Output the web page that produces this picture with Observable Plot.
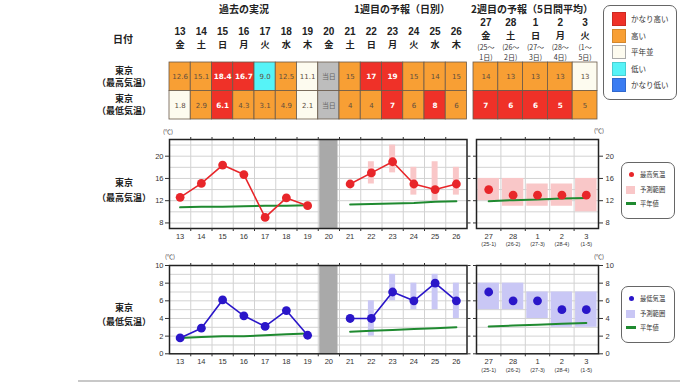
<!DOCTYPE html>
<html lang="ja"><head><meta charset="utf-8">
<script src="https://cdn.jsdelivr.net/npm/d3@7"></script>
<script src="https://cdn.jsdelivr.net/npm/@observablehq/plot@0.6"></script>
<style>
html,body{margin:0;padding:0;background:#fff;}
#root{position:relative;width:680px;height:382px;overflow:hidden;background:#fff;font-family:"Noto Sans CJK JP","Noto Sans",sans-serif;color:#222;}
#root svg{position:absolute;left:0;top:0;}
.t{position:absolute;white-space:nowrap;transform:translate(-50%,-50%);line-height:1;}
.tl{position:absolute;white-space:nowrap;transform:translate(0,-50%);line-height:1;}
.box{position:absolute;border:1px solid #666;border-radius:7px;background:#fff;box-sizing:border-box;}
.sw{position:absolute;box-sizing:border-box;}
</style></head><body><div id="root"></div>
<script>
// ---------- data ----------
const daysA = ["13","14","15","16","17","18","19","20","21","22","23","24","25","26"];
const weekdaysA = ["金","土","日","月","火","水","木","金","土","日","月","火","水","木"];
const daysB = ["27","28","1","2","3"];
const weekdaysB = ["金","土","日","月","火"];
const periodStartB = ["(25～","(26～","(27～","(28～","(1～"];
const periodEndB = ["1日)","2日)","3日)","4日)","5日)"];
const periodTicksB = ["(25-1)","(26-2)","(27-3)","(28-4)","(1-5)"];

// observations 13-19
const maxObs = [12.6, 15.1, 18.4, 16.7, 9.0, 12.5, 11.1];
const maxObsClass = ["high","high","vhigh","vhigh","low","high","normal"];
const minObs = [1.8, 2.9, 6.1, 4.3, 3.1, 4.9, 2.1];
const minObsClass = ["normal","high","vhigh","high","high","high","normal"];
// week 1 forecast 21-26
const maxW1 = [15, 17, 19, 15, 14, 15];
const maxW1Class = ["high","vhigh","vhigh","high","high","high"];
const maxW1Lo = [null, 15, 17, 13, 12, 13];
const maxW1Hi = [null, 19, 22, 18, 19, 18];
const minW1 = [4, 4, 7, 6, 8, 6];
const minW1Class = ["high","high","vhigh","high","vhigh","high"];
const minW1Lo = [null, 2, 6, 5, 5, 4];
const minW1Hi = [null, 6, 9, 8, 9, 8];
// week 2 forecast (5-day means)
const maxW2 = [14, 13, 13, 13, 13];
const maxW2Class = ["high","high","high","high","normal"];
const maxW2Lo = [12, 11, 11, 11, 10];
const maxW2Hi = [16, 16, 15, 15, 16];
const minW2 = [7, 6, 6, 5, 5];
const minW2Class = ["vhigh","vhigh","vhigh","vhigh","high"];
const minW2Lo = [5, 5, 4, 3, 3];
const minW2Hi = [8, 8, 7, 7, 7];
// normals
const maxNormPast = [10.8, 10.9, 10.9, 11.0, 11.1, 11.1, 11.2];
const maxNormW1 = [11.3, 11.4, 11.5, 11.6, 11.8, 11.9];
const maxNormW2 = [11.9, 12.1, 12.2, 12.4, 12.5];
const minNormPast = [1.8, 1.9, 2.0, 2.0, 2.1, 2.2, 2.3];
const minNormW1 = [2.5, 2.6, 2.7, 2.8, 2.9, 3.0];
const minNormW2 = [3.1, 3.2, 3.3, 3.4, 3.5];
// axes
const maxGrid = [8, 10, 12, 14, 16, 18, 20, 22];
const maxTicks = [8, 12, 16, 20];
const minGrid = [1, 2, 3, 4, 5, 6, 7, 8, 9];
const minTicks = [0, 2, 4, 6, 8, 10];
// legend
const legendClasses = ["vhigh","high","normal","low","vlow"];
const legendLabels = ["かなり高い","高い","平年並","低い","かなり低い"];

// ---------- styles ----------
const W = 680, H = 382;
const NUM = "'Liberation Sans', Arial, sans-serif";
const TNUM = "'DejaVu Sans', Verdana, sans-serif";
const JP = "'Noto Sans CJK JP', sans-serif";
const colorOf = {vhigh:"#ef3128", high:"#f89f34", normal:"#fdfbef", low:"#56f3f7", vlow:"#3a7cf2", today:"#bdbdbd"};
const RED = "#e8262a", BLUE = "#2a16c9", PINK = "#f9c7c8", LAV = "#c9c7f5", GREEN = "#1f8a30", GRID = "#d2d2d2";

const root = document.getElementById("root");
function put(node){ root.appendChild(node); }
function full(opts){
  return Plot.plot(Object.assign({width:W, height:H,
    style:{background:"transparent", fontFamily:NUM, position:"absolute", left:"0px", top:"0px"},
    color:{type:"identity"}}, opts));
}
function txt(x, y, s, css, cls="t"){
  const d = document.createElement("div"); d.className = cls;
  d.style.left = x + "px"; d.style.top = y + "px"; d.textContent = s;
  Object.assign(d.style, css || {}); root.appendChild(d); return d;
}
function headerLine(labels, dy, opts){
  return Plot.text(labels.map((s,i)=>({i, s})), Object.assign({x:"i", frameAnchor:"top", dy, text:"s", lineAnchor:"middle", fontFamily:JP, fill:"#222"}, opts));
}

// ---------- tables ----------
const tableA = [];
daysA.forEach((d, i) => {
  let mv, mc, nv, nc;
  if (i < 7) { mv = maxObs[i].toFixed(1); mc = maxObsClass[i]; nv = minObs[i].toFixed(1); nc = minObsClass[i]; }
  else if (i === 7) { mv = nv = "当日"; mc = nc = "today"; }
  else { mv = String(maxW1[i-8]); mc = maxW1Class[i-8]; nv = String(minW1[i-8]); nc = minW1Class[i-8]; }
  tableA.push({i, row:0, text:mv, cls:mc}, {i, row:1, text:nv, cls:nc});
});
const tableB = [];
daysB.forEach((d, i) => {
  tableB.push({i, row:0, text:String(maxW2[i]), cls:maxW2Class[i]}, {i, row:1, text:String(minW2[i]), cls:minW2Class[i]});
});
function tableMarks(data){
  return [
    Plot.rect(data, {x1:d=>d.i-0.5, x2:d=>d.i+0.5, y1:"row", y2:d=>d.row+1, fill:d=>colorOf[d.cls], stroke:"#6a5a4a", strokeWidth:0.8}),
    Plot.text(data.filter(d=>d.cls!=="vhigh" && d.cls!=="today"), {x:"i", y:d=>d.row+0.5, text:"text", fill:"#5e4e3e", fontSize:7, fontFamily:TNUM}),
    Plot.text(data.filter(d=>d.cls==="today"), {x:"i", y:d=>d.row+0.5, text:"text", fill:"#666", fontSize:7, fontFamily:JP}),
    Plot.text(data.filter(d=>d.cls==="vhigh"), {x:"i", y:d=>d.row+0.5, text:"text", fill:"#fff", fontSize:7.3, fontWeight:"bold", fontFamily:TNUM})
  ];
}
const numHead = {fontSize:10, fontWeight:"bold", fontFamily:NUM};
const dayHead = {fontSize:9.2, fontWeight:"bold"};
put(full({
  marginLeft:169, marginRight:W-466.5, marginTop:62, marginBottom:H-119,
  x:{domain:[-0.5, 13.5], axis:null}, y:{domain:[0, 2], reverse:true, axis:null},
  marks:[
    ...tableMarks(tableA),
    headerLine(daysA, -30.6, numHead),
    headerLine(weekdaysA, -17.5, dayHead)
  ]
}));
put(full({
  marginLeft:473, marginRight:W-597, marginTop:62, marginBottom:H-119,
  x:{domain:[-0.5, 4.5], axis:null}, y:{domain:[0, 2], reverse:true, axis:null},
  marks:[
    ...tableMarks(tableB),
    headerLine(daysB, -39.6, numHead),
    headerLine(weekdaysB, -26.4, dayHead),
    headerLine(periodStartB, -15, {fontSize:7, fill:"#333"}),
    headerLine(periodEndB, -4.7, {fontSize:7, fill:"#333"})
  ]
}));

// ---------- charts ----------
function chartA(cfg){
  const obs = cfg.obs.map((v,i)=>({i, v}));
  const w1 = cfg.w1.map((v,k)=>({i:k+8, v, lo:cfg.lo[k], hi:cfg.hi[k]}));
  const nPast = cfg.normPast.map((v,i)=>({i, v}));
  const nW1 = cfg.normW1.map((v,k)=>({i:k+8, v}));
  const bounds = d3.range(0.5, 13, 1);
  return full({
    marginLeft:169, marginRight:W-466.5, marginTop:cfg.top, marginBottom:H-cfg.bottom,
    x:{domain:[-0.5, 13.5], axis:null}, y:{domain:cfg.domain, axis:null},
    marks:[
      Plot.gridY(cfg.grid, {stroke:GRID, strokeOpacity:1}),
      Plot.gridX(bounds, {stroke:GRID, strokeOpacity:1}),
      Plot.rect([7], {x1:d=>d-0.43, x2:d=>d+0.43, fill:"#a9a9a9"}),
      Plot.rect(w1.filter(d=>d.lo!=null), {x1:d=>d.i-0.14, x2:d=>d.i+0.14, y1:"lo", y2:"hi", fill:cfg.rangeColor}),
      Plot.line(nPast, {x:"i", y:"v", stroke:GREEN, strokeWidth:2}),
      Plot.line(nW1, {x:"i", y:"v", stroke:GREEN, strokeWidth:2}),
      Plot.line(obs, {x:"i", y:"v", stroke:cfg.color, strokeWidth:1.6}),
      Plot.line(w1, {x:"i", y:"v", stroke:cfg.color, strokeWidth:1.6}),
      Plot.dot(obs, {x:"i", y:"v", r:4.4, fill:cfg.color}),
      Plot.dot(w1, {x:"i", y:"v", r:4.4, fill:cfg.color}),
      Plot.frame({stroke:"#222", strokeWidth:1.5}),
      Plot.axisY(cfg.ticks, {anchor:"left", tickSize:4, tickPadding:2, fontSize:7.5, fill:"#333", stroke:"#333", label:null}),
      Plot.axisY(cfg.ticks, {anchor:"right", tickSize:3, tickFormat:()=>"", stroke:"#333", label:null}),
      Plot.axisX(d3.range(14), {anchor:"bottom", tickSize:0, tickPadding:5, tickFormat:i=>daysA[i], fontSize:7.5, fill:"#333", label:null}),
      Plot.axisX(bounds, {anchor:"bottom", tickSize:3, tickFormat:()=>"", stroke:"#333", label:null}),
      Plot.axisX(bounds, {anchor:"top", tickSize:3, tickFormat:()=>"", stroke:"#333", label:null})
    ]
  });
}
function chartB(cfg){
  const w2 = cfg.w2.map((v,i)=>({i, v, lo:cfg.lo[i], hi:cfg.hi[i]}));
  const nW2 = cfg.norm.map((v,i)=>({i, v}));
  const bounds = d3.range(0.5, 4, 1);
  return full({
    marginLeft:476, marginRight:W-598, marginTop:cfg.top, marginBottom:H-cfg.bottom,
    x:{domain:[-0.5, 4.5], axis:null}, y:{domain:cfg.domain, axis:null},
    marks:[
      Plot.gridY(cfg.grid, {stroke:GRID, strokeOpacity:1}),
      Plot.gridX(bounds, {stroke:GRID, strokeOpacity:1}),
      Plot.rect(w2, {x1:d=>d.i-0.44, x2:d=>d.i+0.44, y1:"lo", y2:"hi", fill:cfg.rangeColor}),
      Plot.line(nW2, {x:"i", y:"v", stroke:GREEN, strokeWidth:2}),
      Plot.dot(w2, {x:"i", y:"v", r:4.4, fill:cfg.color}),
      Plot.frame({stroke:"#222", strokeWidth:1.5}),
      Plot.axisY(cfg.ticks, {anchor:"right", tickSize:4, tickPadding:3, fontSize:7.5, fill:"#333", stroke:"#333", label:null}),
      Plot.axisY(cfg.ticks, {anchor:"left", tickSize:3, tickFormat:()=>"", stroke:"#333", label:null}),
      Plot.axisX(d3.range(5), {anchor:"bottom", tickSize:0, tickPadding:5, tickFormat:i=>daysB[i], fontSize:7.5, fill:"#333", label:null}),
      Plot.axisX(d3.range(5), {anchor:"bottom", tickSize:0, tickPadding:13.8, tickFormat:i=>periodTicksB[i], fontSize:5.5, fill:"#333", label:null}),
      Plot.axisX(bounds, {anchor:"bottom", tickSize:3, tickFormat:()=>"", stroke:"#333", label:null}),
      Plot.axisX(bounds, {anchor:"top", tickSize:3, tickFormat:()=>"", stroke:"#333", label:null})
    ]
  });
}
const maxCfg = {top:139, bottom:228, domain:[7, 23], grid:maxGrid, ticks:maxTicks, color:RED, rangeColor:PINK};
const minCfg = {top:265, bottom:353.3, domain:[0, 10], grid:minGrid, ticks:minTicks, color:BLUE, rangeColor:LAV};
put(chartA({...maxCfg, obs:maxObs, w1:maxW1, lo:maxW1Lo, hi:maxW1Hi, normPast:maxNormPast, normW1:maxNormW1}));
put(chartA({...minCfg, obs:minObs, w1:minW1, lo:minW1Lo, hi:minW1Hi, normPast:minNormPast, normW1:minNormW1}));
put(chartB({...maxCfg, w2:maxW2, lo:maxW2Lo, hi:maxW2Hi, norm:maxNormW2}));
put(chartB({...minCfg, w2:minW2, lo:minW2Lo, hi:minW2Hi, norm:minNormW2}));

// ---------- texts ----------
const hb = {fontSize:"10px", fontWeight:"bold"};
txt(244, 9, "過去の実況", hb);
txt(402, 9, "1週目の予報（日別）", hb);
txt(532, 9, "2週目の予報（5日間平均）", hb);
txt(123, 39, "日付", hb);
const rl = {fontSize:"9px", fontWeight:"bold"};
txt(124, 70, "東京", rl); txt(124, 82, "（最高気温）", rl);
txt(124, 98, "東京", rl); txt(124, 110, "（最低気温）", rl);
txt(124, 182, "東京", rl); txt(124, 197, "（最高気温）", rl);
txt(124, 307, "東京", rl); txt(124, 321, "（最低気温）", rl);
const un = {fontSize:"6px", color:"#333"};
txt(168, 132, "(℃)", un); txt(599, 131, "(℃)", un);
txt(170, 257, "(℃)", un); txt(599, 257, "(℃)", un);

// ---------- legends ----------
function box(l, t, w, h){ const b = document.createElement("div"); b.className = "box";
  Object.assign(b.style, {left:l+"px", top:t+"px", width:w+"px", height:h+"px"}); root.appendChild(b); }
box(603, 5, 74, 95);
legendClasses.forEach((c, k) => {
  const cy = 19 + k*16.5;
  const s = document.createElement("div"); s.className = "sw";
  Object.assign(s.style, {left:"612px", top:(cy-7)+"px", width:"14px", height:"14px", background:colorOf[c], border:"1px solid " + (c==="normal" ? "#aaa" : "rgba(0,0,0,0.15)")});
  root.appendChild(s);
  txt(631, cy, legendLabels[k], {fontSize:"7.5px", color:"#333"}, "tl");
});
function chartLegend(top, color, rangeColor, label){
  box(621, top, 54, 57);
  const dot = document.createElement("div"); dot.className = "sw";
  Object.assign(dot.style, {left:"628.5px", top:(top+10.5)+"px", width:"5px", height:"5px", borderRadius:"50%", background:color});
  root.appendChild(dot);
  const sq = document.createElement("div"); sq.className = "sw";
  Object.assign(sq.style, {left:"626px", top:(top+24.5)+"px", width:"9px", height:"8px", background:rangeColor});
  root.appendChild(sq);
  const ln = document.createElement("div"); ln.className = "sw";
  Object.assign(ln.style, {left:"626px", top:(top+40.5)+"px", width:"9.5px", height:"2.5px", background:GREEN});
  root.appendChild(ln);
  const ts = {fontSize:"6.3px", color:"#333"};
  txt(640, top+13, label, ts, "tl");
  txt(640, top+28.5, "予測範囲", ts, "tl");
  txt(640, top+42, "平年値", ts, "tl");
}
chartLegend(161.5, RED, PINK, "最高気温");
chartLegend(285.7, BLUE, LAV, "最低気温");

// bottom rule
const rule = document.createElement("div");
Object.assign(rule.style, {position:"absolute", left:"78px", top:"380px", width:"602px", height:"2px", background:"#c8c8c8"});
root.appendChild(rule);
</script></body></html>
